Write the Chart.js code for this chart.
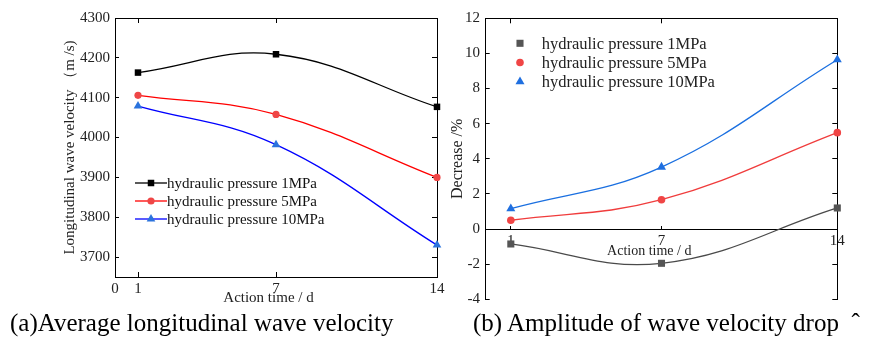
<!DOCTYPE html>
<html>
<head>
<meta charset="utf-8">
<script src="https://cdn.jsdelivr.net/npm/chart.js@4.4.0/dist/chart.umd.min.js"></script>
<style>
  body { margin: 0; background: #fff; width: 886px; height: 340px; overflow: hidden; position: relative; }
  canvas { position: absolute; top: 0; }
  #chartA { left: 0; }
  #chartB { left: 440px; }
  .cap { position: absolute; top: 309px; font-family: "Liberation Serif", serif; font-size: 25px; line-height: 28px; color: #000; white-space: pre; }
</style>
</head>
<body>
<canvas id="chartA" width="445" height="340"></canvas>
<canvas id="chartB" width="446" height="340"></canvas>
<div class="cap" style="left:10px">(a)Average longitudinal wave velocity</div>
<div class="cap" style="left:473px">(b) Amplitude of wave velocity drop  ˆ</div>
<script>
/* wave velocity charts */

const days = [1, 7, 14];
const dayTicksA = [0, 1, 7, 14];
const dayTicksB = [1, 7, 14];
const velocityTicks = [3700, 3800, 3900, 4000, 4100, 4200, 4300];
const decreaseTicks = [-4, -2, 0, 2, 4, 6, 8, 10, 12];
const seriesNames = ['hydraulic pressure 1MPa', 'hydraulic pressure 5MPa', 'hydraulic pressure 10MPa'];

// (a) average longitudinal wave velocity, m/s
const velocity1 = [4163, 4209, 4077];
const velocity5 = [4106, 4058, 3900];
const velocity10 = [4079, 3982, 3730];

// (b) decrease of wave velocity, %
const decrease1 = [-0.85, -1.95, 1.2];
const decrease5 = [0.5, 1.67, 5.49];
const decrease10 = [1.16, 3.53, 9.64];

const FONT = "'Liberation Serif', 'Times New Roman', serif";

function pts( ys ) {
    return days.map( ( d, i ) => ( { x: d, y: ys[i] } ) );
}

function fixTicks( list ) {
    return scale => { scale.ticks = list.map( v => ( { value: v } ) ); };
}

function fixSize( size ) {
    return scale => {
        if ( scale.isHorizontal() ) scale.height = size;
        else scale.width = size;
        scale.paddingLeft = scale.paddingRight = 0;
        scale.paddingTop = scale.paddingBottom = 0;
    };
}

function drawMarker( ctx, style, r, x, y, color ) {
    ctx.fillStyle = color;
    ctx.beginPath();
    if ( style === 'rect' ) {
        const s = r * Math.SQRT1_2;
        ctx.rect( x - s, y - s, 2 * s, 2 * s );
    } else if ( style === 'triangle' ) {
        ctx.moveTo( x, y - r );
        ctx.lineTo( x + r * 0.866, y + r * 0.5 );
        ctx.lineTo( x - r * 0.866, y + r * 0.5 );
        ctx.closePath();
    } else {
        ctx.arc( x, y, r, 0, Math.PI * 2 );
    }
    ctx.fill();
}

// legend drawn inside the plot, like the original figure
const insideLegend = {
    id: 'insideLegend',
    afterDatasetsDraw( chart, args, opts ) {
        const ctx = chart.ctx;
        ctx.save();
        ctx.font = opts.fontSize + 'px ' + FONT;
        ctx.textBaseline = 'middle';
        chart.data.datasets.forEach( ( ds, i ) => {
            const y = opts.y + i * opts.rowHeight;
            const mx = opts.x + opts.lineLength / 2;
            if ( opts.lineLength > 0 ) {
                ctx.strokeStyle = ds.borderColor;
                ctx.lineWidth = ds.borderWidth;
                ctx.beginPath();
                ctx.moveTo( opts.x, y );
                ctx.lineTo( opts.x + opts.lineLength, y );
                ctx.stroke();
            }
            drawMarker( ctx, ds.pointStyle, ds.pointRadius, mx, y, ds.pointBackgroundColor );
            ctx.fillStyle = opts.color;
            ctx.fillText( ds.label, opts.textX, y + 1 );
        } );
        ctx.restore();
    }
};

function makeSet( label, ys, line, point, style, radius ) {
    return {
        label: label,
        data: pts( ys ),
        showLine: true,
        borderColor: line,
        borderWidth: 1.3,
        backgroundColor: point,
        pointBackgroundColor: point,
        pointBorderWidth: 0,
        pointStyle: style,
        pointRadius: radius,
        tension: 0.4,
        clip: false
    };
}

function tickFont( size ) {
    return { family: FONT, size: size };
}

function plainAxis( axis, position, min, max, list, size ) {
    return {
        type: 'linear',
        axis: axis,
        position: position,
        min: min,
        max: max,
        afterBuildTicks: fixTicks( list ),
        afterFit: fixSize( size ),
        grid: { drawOnChartArea: false, tickLength: -5, tickColor: '#000' },
        border: { color: '#000', width: 1 },
        ticks: { display: false }
    };
}

const chartA = new Chart( document.getElementById( 'chartA' ), {
    type: 'scatter',
    data: {
        datasets: [
            makeSet( seriesNames[0], velocity1, '#000000', '#000000', 'rect', 4.6 ),
            makeSet( seriesNames[1], velocity5, '#ff0000', '#ef4646', 'circle', 3.6 ),
            makeSet( seriesNames[2], velocity10, '#0000ff', '#2b73dd', 'triangle', 5 )
        ]
    },
    plugins: [ insideLegend ],
    options: {
        responsive: false,
        animation: false,
        events: [],
        layout: { padding: { left: 60, top: 18, right: 8, bottom: 23 } },
        plugins: {
            legend: { display: false },
            tooltip: { enabled: false },
            insideLegend: { x: 135, lineLength: 32, textX: 167, y: 183, rowHeight: 18, fontSize: 15, color: '#111' }
        },
        scales: {
            x: {
                type: 'linear',
                position: 'bottom',
                min: 0,
                max: 14,
                afterBuildTicks: fixTicks( dayTicksA ),
                afterFit: fixSize( 40 ),
                grid: { drawOnChartArea: false, tickLength: -5, tickColor: '#000' },
                border: { color: '#000', width: 1 },
                ticks: { font: tickFont( 15 ), color: '#222', padding: 8.5, maxRotation: 0, callback: v => String( v ) },
                title: { display: true, text: 'Action time / d    ', font: tickFont( 15 ), color: '#222', padding: { top: 0, bottom: 10 } }
            },
            y: {
                type: 'linear',
                position: 'left',
                min: 3650,
                max: 4300,
                afterBuildTicks: fixTicks( velocityTicks ),
                afterFit: fixSize( 55 ),
                grid: { drawOnChartArea: false, tickLength: -4, tickColor: '#000' },
                border: { color: '#000', width: 1 },
                ticks: { font: tickFont( 15 ), color: '#222', padding: 9, callback: v => String( v ) },
                title: { display: true, text: 'Longitudinal wave velocity （m /s)', font: tickFont( 15 ), color: '#222', padding: { top: 1, bottom: 0 } }
            },
            x2: plainAxis( 'x', 'top', 0, 14, dayTicksA, 0 ),
            y2: plainAxis( 'y', 'right', 3650, 4300, velocityTicks, 0 )
        }
    }
} );

// the x axis of (b) sits on y = 0 and takes no layout room,
// so the bottom padding keeps the plot bottom at -4
const chartB = new Chart( document.getElementById( 'chartB' ), {
    type: 'scatter',
    data: {
        datasets: [
            makeSet( seriesNames[0], decrease1, '#4a4a4a', '#555555', 'rect', 5 ),
            makeSet( seriesNames[1], decrease5, '#f03c3c', '#f04545', 'circle', 3.8 ),
            makeSet( seriesNames[2], decrease10, '#1a6fe0', '#1f6fe0', 'triangle', 5.2 )
        ]
    },
    plugins: [ insideLegend ],
    options: {
        responsive: false,
        animation: false,
        events: [],
        layout: { padding: { left: 8, top: 18.3, right: 48.7, bottom: 40.7 } },
        plugins: {
            legend: { display: false },
            tooltip: { enabled: false },
            insideLegend: { x: 80, lineLength: 0, textX: 101.7, y: 43.3, rowHeight: 19.2, fontSize: 16.5, color: '#222' }
        },
        scales: {
            x: {
                type: 'linear',
                position: { y: 0 },
                min: 0,
                max: 14,
                afterBuildTicks: fixTicks( dayTicksB ),
                afterFit: fixSize( 40 ),
                grid: { drawOnChartArea: false, tickLength: -4, tickColor: '#000' },
                border: { color: '#000', width: 1 },
                ticks: { font: tickFont( 15 ), color: '#222', padding: 6.8, maxRotation: 0, callback: v => String( v ) },
                title: { display: true, text: 'Action time / d       ', font: tickFont( 14 ), color: '#222', padding: { top: 0, bottom: 9.3 } }
            },
            y: {
                type: 'linear',
                position: 'left',
                min: -4,
                max: 12,
                afterBuildTicks: fixTicks( decreaseTicks ),
                afterFit: fixSize( 37.7 ),
                grid: { drawOnChartArea: false, tickLength: -4, tickColor: '#000' },
                border: { color: '#000', width: 1 },
                ticks: { font: tickFont( 15 ), color: '#222', padding: 9.7, callback: v => String( v ) },
                title: { display: true, text: 'Decrease /%', font: tickFont( 16 ), color: '#222', padding: { top: 0, bottom: 0 } }
            },
            x2: plainAxis( 'x', 'top', 0, 14, dayTicksB, 0 ),
            y2: plainAxis( 'y', 'right', -4, 12, decreaseTicks, 0 )
        }
    }
} );
</script>
</body>
</html>
